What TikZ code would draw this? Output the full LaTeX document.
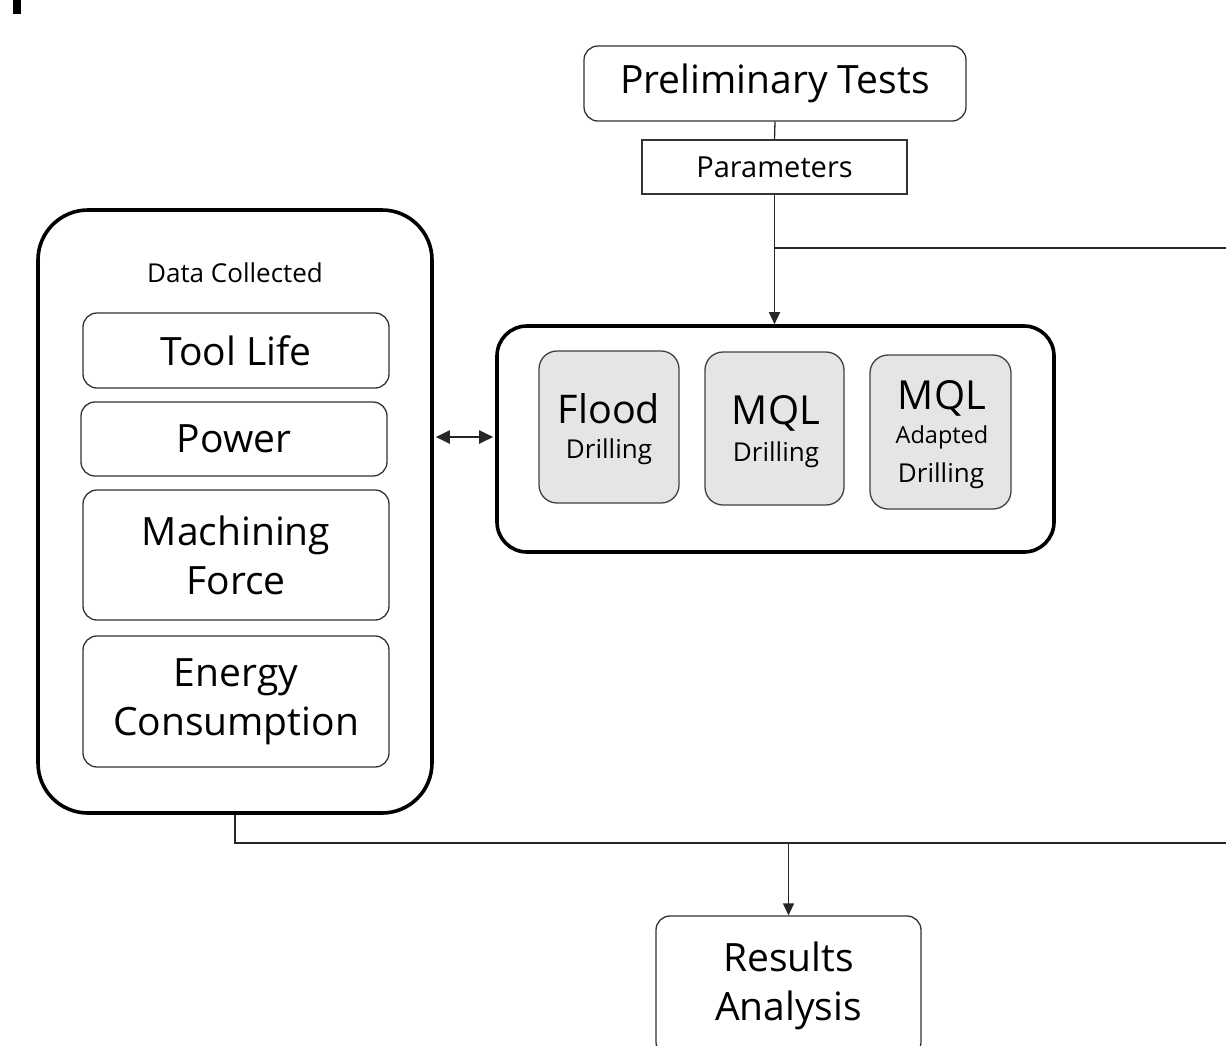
\documentclass[tikz,border=0pt]{standalone}
\usepackage{fontspec}
\setmainfont{Open Sans}
\usetikzlibrary{arrows.meta}
\begin{document}
\begin{tikzpicture}[x=1pt,y=-1pt,
 box/.style={draw=black!80, line width=1.3pt, rounded corners=14pt, align=center, inner sep=0pt},
 bigbox/.style={draw=black, line width=3.6pt, inner sep=0pt},
 gbox/.style={draw=black!75, fill=black!10, line width=1.3pt, rounded corners=18pt, align=center, inner sep=0pt},
 conn/.style={draw=black!85, line width=1.3pt},
 arr/.style={conn, -{Triangle[length=12pt,width=11pt]}},
 lbl/.style={inner sep=0pt, align=center},
 fbig/.style={font=\fontsize{39}{49}\selectfont},
 fmid/.style={font=\fontsize{29}{30}\selectfont}]
\useasboundingbox (0,0) rectangle (1226,1045);
\fill (13,0) rectangle (21,14);
% top
\node[box, fbig, minimum width=382, minimum height=75] (prelim) at (775,83.5) {Preliminary Tests};
\node[draw=black!80, line width=1.3pt, fmid, inner sep=0pt, minimum width=265, minimum height=54] (param) at (774.5,167) {Parameters};
% drilling group
\node[bigbox, rounded corners=30pt, minimum width=557, minimum height=226] (drill) at (775.5,439) {};
\node[gbox, minimum width=140, minimum height=152] (flood) at (609,427) {};
\node[lbl, font=\fontsize{39.5}{40}\selectfont] (floodt) at (609,409) {Flood};
\node[lbl, font=\fontsize{26}{26}\selectfont] (floodd) at (609,452) {Drilling};
\node[gbox, minimum width=139, minimum height=153] (mql) at (774.5,428.5) {};
\node[lbl, font=\fontsize{40}{40}\selectfont] (mqlt) at (776,413) {MQL};
\node[lbl, font=\fontsize{26}{26}\selectfont] (mqld) at (776,455) {Drilling};
\node[gbox, minimum width=141, minimum height=154] (mqla) at (940.5,432) {};
\node[lbl, font=\fontsize{40}{40}\selectfont] (mqlat) at (942,398) {MQL};
\node[lbl, font=\fontsize{23.5}{24}\selectfont] (mqlaa) at (942,437) {Adapted};
\node[lbl, font=\fontsize{26}{26}\selectfont] (mqlad) at (941,476) {Drilling};
% data collected group
\node[bigbox, rounded corners=50pt, minimum width=394, minimum height=603] (data) at (235,511.5) {};
\node[lbl, font=\fontsize{26}{26}\selectfont] (datat) at (235,273) {Data Collected};
\node[box, fbig, minimum width=306, minimum height=75] (tool) at (236,350.5) {Tool Life};
\node[box, fbig, minimum width=306, minimum height=74] (power) at (234,439) {Power};
\node[box, fbig, minimum width=306, minimum height=130] (force) at (236,555) {Machining\\Force};
\node[box, fbig, minimum width=306, minimum height=131] (energy) at (236,701.5) {Energy\\Consumption};
% results
\node[box, fbig, minimum width=265, minimum height=140] (results) at (788.5,986) {Results\\Analysis};
% connectors
\coordinate (rt) at (1226,248);
\coordinate (br) at (1226,843);
\draw[conn] (prelim.south) -- (param.north);
\draw[arr] (param.south) -- (param.south |- drill.north);
\draw[conn] (param.south |- rt) -- (rt);
\draw[conn, line width=2pt, {Triangle[length=14pt,width=13pt]}-{Triangle[length=14pt,width=13pt]}] ([xshift=2pt]data.east |- 0,437) -- ([xshift=-2pt]drill.west |- 0,437);
\draw[conn] (data.south) |- (br);
\draw[arr] (results.north |- br) -- (results.north);
\end{tikzpicture}
\end{document}
